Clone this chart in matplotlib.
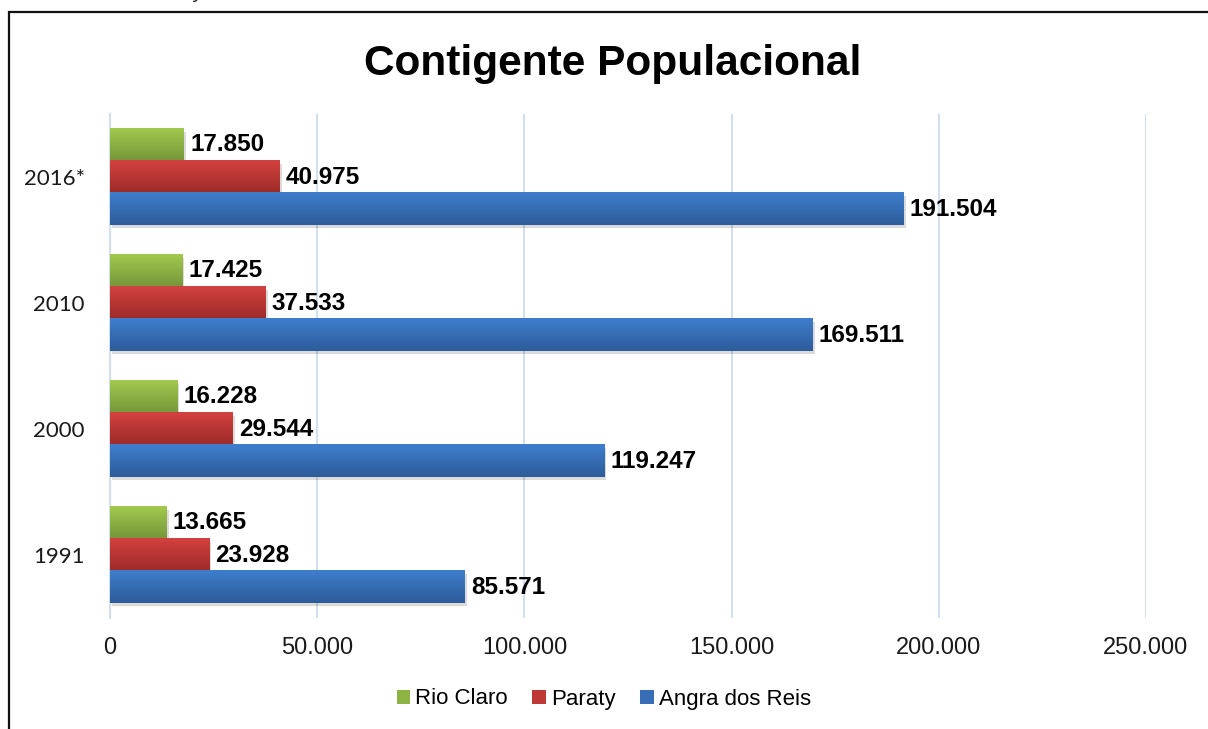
import numpy as np
import matplotlib
matplotlib.use("Agg")
import matplotlib.pyplot as plt
from matplotlib.patches import Patch, Rectangle
from matplotlib.colors import LinearSegmentedColormap
import matplotlib.patheffects as pe

# ---- data ----
categories = ["1991", "2000", "2010", "2016*"]
series_names = ["Rio Claro", "Paraty", "Angra dos Reis"]
rio_claro = [13665, 16228, 17425, 17850]
paraty = [23928, 29544, 37533, 40975]
angra = [85571, 119247, 169511, 191504]
x_ticks = [0, 50000, 100000, 150000, 200000, 250000]
title = "Contigente Populacional"

# ---- styles ----
grad = {
    "Rio Claro": ("#A2C94E", "#76963A"),
    "Paraty": ("#D3413F", "#9C2B29"),
    "Angra dos Reis": ("#3F7ECD", "#2D5C9A"),
}
legend_col = {"Rio Claro": "#8DB345", "Paraty": "#BE3836", "Angra dos Reis": "#376EB6"}

W, H, DPI = 1208, 729, 100
fig = plt.figure(figsize=(W / DPI, H / DPI), dpi=DPI)
fig.patch.set_facecolor("white")

ax_left, ax_right = 110 / W, 1146 / W
ax_top, ax_bot = 1 - 114 / H, 1 - 618 / H
ax = fig.add_axes([ax_left, ax_bot, ax_right - ax_left, ax_top - ax_bot])

def fmt(v):
    return f"{v:,}".replace(",", ".")

y = np.arange(len(categories))
h = 0.254
offsets = {"Rio Claro": h, "Paraty": 0.0, "Angra dos Reis": -h}
values = {"Rio Claro": rio_claro, "Paraty": paraty, "Angra dos Reis": angra}

shadow = [pe.SimplePatchShadow(offset=(1.5, -2.5), shadow_rgbFace="#000000", alpha=0.14), pe.Normal()]

for name in series_names:
    top, bot = grad[name]
    cmap = LinearSegmentedColormap.from_list(name, [bot, top])
    bars = ax.barh(y + offsets[name], values[name], height=h, color=legend_col[name],
                   zorder=2, linewidth=0)
    for b, v in zip(bars, values[name]):
        b.set_path_effects(shadow)
        x0, y0 = b.get_x(), b.get_y()
        bw, bh = b.get_width(), b.get_height()
        g = np.linspace(0, 1, 64).reshape(-1, 1)
        ax.imshow(g, extent=[x0, x0 + bw, y0, y0 + bh], origin="lower", cmap=cmap,
                  aspect="auto", zorder=3, interpolation="bilinear")
        ax.annotate(fmt(v), xy=(x0 + bw, y0 + bh / 2), xytext=(4.5, 0),
                    textcoords="offset points", va="center", ha="left",
                    fontsize=17.5, fontweight="bold", family="Liberation Sans",
                    color="#000000", zorder=5)

ax.set_xlim(0, 250000)
ax.set_ylim(-0.5, 3.5)
ax.set_xticks(x_ticks)
ax.set_xticklabels([fmt(t) for t in x_ticks], fontsize=17, family="Liberation Sans", color="#1a1a1a")
ax.set_yticks(y)
ax.set_yticklabels(categories, fontsize=16, family="Lato", color="#1a1a1a")
ax.tick_params(axis="both", length=0)
ax.tick_params(axis="x", pad=14)
ax.tick_params(axis="y", pad=18)
ax.grid(axis="x", color="#D3DFEE", linewidth=1.5, zorder=0)
ax.set_axisbelow(True)
for s in ["top", "right", "bottom"]:
    ax.spines[s].set_visible(False)
ax.spines["left"].set_color("#D3DFEE")
ax.spines["left"].set_linewidth(1.5)

# title
fig.text(0.507, 1 - 75 / H, title, ha="center", va="baseline", fontsize=30.5,
         fontweight="bold", family="Liberation Sans", color="#000000")

# legend
handles = [Patch(facecolor=legend_col[n], edgecolor="none", label=n) for n in series_names]
fig.legend(handles=handles, loc="center", bbox_to_anchor=(0.5, 1 - 699 / H), ncol=3,
           frameon=False, prop={"family": "Liberation Sans", "size": 16},
           handlelength=0.6, handleheight=0.6, handletextpad=0.25, columnspacing=1.1)

# outer frame (extends beyond the image right/bottom)
fig.add_artist(Rectangle((9 / W, -0.05), 1.2, 1 - 12 / H + 0.05, transform=fig.transFigure,
                         fill=False, edgecolor="#111111", linewidth=1.6, zorder=10))

# cut-off text fragment above the frame
fig.text(193 / W, 1 + 2 / H, "y", ha="left", va="baseline", fontsize=14, style="italic",
         family="Liberation Sans", color="#111111")

fig.savefig("out.png", dpi=DPI, facecolor="white")
